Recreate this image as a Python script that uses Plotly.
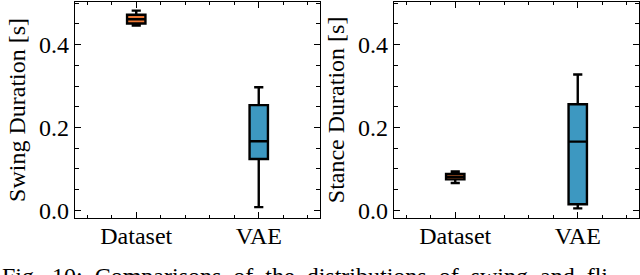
import plotly.graph_objects as go

categories = ["Dataset", "VAE"]
positions = [1, 2]

# Swing duration (left panel)
swing_q1 = [0.451, 0.124]
swing_median = [0.461, 0.167]
swing_q3 = [0.472, 0.254]
swing_low = [0.446, 0.008]
swing_high = [0.482, 0.297]

# Stance duration (right panel)
stance_q1 = [0.075, 0.015]
stance_median = [0.081, 0.166]
stance_q3 = [0.088, 0.256]
stance_low = [0.066, 0.005]
stance_high = [0.094, 0.328]

box_colors = ["#ee7733", "#3d98c1"]
y_titles = ["Swing Duration [s]", "Stance Duration [s]"]
y_ticks = [0.0, 0.2, 0.4]
caption = "Fig. 10: Comparisons of the distributions of swing and fli"

W, H = 640, 275
FONT = "Liberation Serif"
FS = 24

fig = go.Figure()

panels = [
    (swing_q1, swing_median, swing_q3, swing_low, swing_high),
    (stance_q1, stance_median, stance_q3, stance_low, stance_high),
]

for p, (q1, med, q3, lo, hi) in enumerate(panels):
    ax = "" if p == 0 else str(p + 1)
    for i in range(len(categories)):
        fig.add_trace(go.Box(
            x=[positions[i]],
            q1=[q1[i]], median=[med[i]], q3=[q3[i]],
            lowerfence=[lo[i]], upperfence=[hi[i]],
            width=0.15,
            whiskerwidth=0.5,
            fillcolor=box_colors[i],
            line=dict(color="black", width=2.4),
            boxpoints=False,
            xaxis="x" + ax, yaxis="y" + ax,
            showlegend=False,
            hoverinfo="skip",
        ))

x_domains = [[75 / W, 320 / W], [394 / W, 639 / W]]
y_domain = [1 - 218.3 / H, 1 - 1.5 / H]

fig.update_layout(
    template="none",
    width=W, height=H,
    margin=dict(l=0, r=0, t=0, b=0, autoexpand=False),
    paper_bgcolor="white", plot_bgcolor="white",
    font=dict(family=FONT, size=FS, color="black"),
)

for p in range(2):
    ax = "" if p == 0 else str(p + 1)
    fig.update_layout(**{
        "xaxis" + ax: dict(
            domain=x_domains[p],
            range=[0.5, 2.5],
            tickmode="array", tickvals=positions, ticktext=categories,
            anchor="y" + ax,
        ),
        "yaxis" + ax: dict(
            domain=y_domain,
            range=[-0.019, 0.504],
            tickmode="array", tickvals=y_ticks,
            ticktext=["%.1f" % v for v in y_ticks],
            anchor="x" + ax,
            title=dict(text=y_titles[p], standoff=6),
        ),
    })

axis_style = dict(
    automargin=False,
    showline=True, linecolor="black", linewidth=1.2, mirror="ticks",
    ticks="inside", tickcolor="black", tickwidth=1.1, ticklen=6,
    showgrid=False, zeroline=False,
    tickfont=dict(family=FONT, size=FS, color="black"),
    title_font=dict(family=FONT, size=FS, color="black"),
)
fig.update_xaxes(**axis_style, ticklabelstandoff=-4,
                 minor=dict(ticks="inside", dtick=0.2, tick0=0, ticklen=3.5,
                            tickcolor="black", tickwidth=1.1, showgrid=False))
fig.update_yaxes(**axis_style, ticklabelstandoff=0,
                 minor=dict(ticks="inside", dtick=0.05, tick0=0, ticklen=3.5,
                            tickcolor="black", tickwidth=1.1, showgrid=False))

# justified caption line: widen word gaps
caption_text = caption.replace(" ", " &nbsp;")

fig.add_annotation(
    text=caption_text, xref="paper", yref="paper", x=0, y=1 - 261 / H,
    xanchor="left", yanchor="top", showarrow=False,
    font=dict(family=FONT, size=FS, color="black"),
)

fig.write_html(
    "out.html",
    config={"displayModeBar": False},
    post_script="document.body.style.margin='0';document.body.style.overflow='hidden';",
)
